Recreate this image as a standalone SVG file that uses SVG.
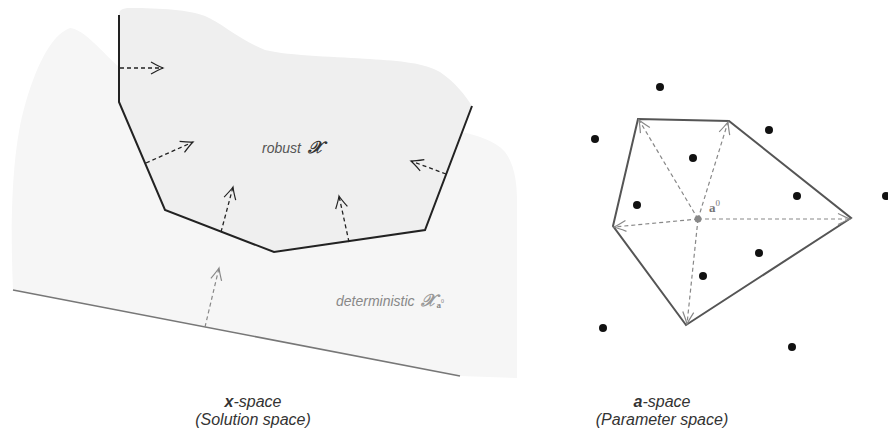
<svg xmlns="http://www.w3.org/2000/svg" width="888" height="435" viewBox="0 0 888 435">
<style>
.lbl{font-family:"Liberation Sans",Arial,sans-serif;font-style:italic;}
.cap{font-family:"Liberation Sans",Arial,sans-serif;font-style:italic;font-size:16px;fill:#333;text-anchor:middle;}
.dk{stroke:#222;stroke-width:1.3;stroke-dasharray:4 3;fill:none;marker-end:url(#ahd);}
.gr{stroke:#888;stroke-width:1.2;stroke-dasharray:4 3;fill:none;marker-end:url(#ahg);}
.dot{fill:#111;}
.scr{font-family:"DejaVu Serif","Liberation Serif",serif;font-style:italic;font-weight:bold;}
</style>
<defs>
<marker id="ahd" markerUnits="userSpaceOnUse" orient="auto" markerWidth="16" markerHeight="16" refX="0" refY="0" viewBox="-14 -8 16 16" overflow="visible">
<path d="M-12,-6 Q-4,-1.5 0,0 Q-4,1.5 -12,6" fill="none" stroke="#222" stroke-width="1.2"/>
</marker>
<marker id="ahg" markerUnits="userSpaceOnUse" orient="auto" markerWidth="16" markerHeight="16" refX="0" refY="0" viewBox="-14 -8 16 16" overflow="visible">
<path d="M-12,-5.5 Q-4,-1.5 0,0 Q-4,1.5 -12,5.5" fill="none" stroke="#888" stroke-width="1.2"/>
</marker>
</defs>
<rect width="888" height="435" fill="#fff"/>
<g id="x-space">
<path id="deterministic-region" d="M13,290 C10,220 12,150 25,105 C35,70 50,35 70,28 C85,30 100,50 119,67 L119,102 L165,210 L273,253 L425,229 L462,132 C475,135 495,140 505,152 C515,165 517,185 517,200 L517,378 L460,376 Z" fill="#f6f6f6"/>
<path id="robust-region" d="M119,102 L119,15 C119,10 122,8 130,8 C160,8 190,10 205,16 C220,22 240,40 265,50 C290,56 340,57 370,59 C400,61 425,63 440,72 C455,82 465,95 472,106 L425,229 L273,253 L165,210 Z" fill="#efefef"/>
<polyline id="robust-boundary" points="119,15 119,102 165,210 274,252 425,230 472,106" fill="none" stroke="#222" stroke-width="2" stroke-linejoin="miter"/>
<line id="deterministic-boundary" x1="13" y1="290" x2="460" y2="376" stroke="#777" stroke-width="1.5"/>
<text class="lbl" x="262" y="153" font-size="14" fill="#555">robust <tspan class="scr" font-size="17" fill="#333" dx="3">𝒳</tspan></text>
<text class="lbl" x="336" y="306" font-size="14" fill="#888">deterministic <tspan class="scr" font-size="17" fill="#999" dx="3">𝒳</tspan><tspan font-family="Liberation Serif,serif" font-style="normal" font-weight="bold" font-size="9" dy="2">a</tspan><tspan font-family="Liberation Serif,serif" font-style="normal" font-size="6" dy="-5">0</tspan></text>
<text class="cap" x="253" y="407"><tspan font-weight="bold">x</tspan>-space</text>
<text class="cap" x="253" y="425">(Solution space)</text>
</g>
<g id="a-space">
<polygon id="uncertainty-set" points="638,119 729,121 851,218 686,325 613,226" fill="#fff" stroke="#555" stroke-width="2" stroke-linejoin="miter"/>
<circle class="dot" cx="660" cy="87" r="4"/>
<circle class="dot" cx="595" cy="139" r="4"/>
<circle class="dot" cx="769" cy="130" r="4"/>
<circle class="dot" cx="693" cy="158" r="4"/>
<circle class="dot" cx="637" cy="205" r="4"/>
<circle class="dot" cx="797" cy="196" r="4"/>
<circle class="dot" cx="886" cy="196" r="4"/>
<circle class="dot" cx="759" cy="253" r="4"/>
<circle class="dot" cx="703" cy="276" r="4"/>
<circle class="dot" cx="603" cy="328" r="4"/>
<circle class="dot" cx="792" cy="347" r="4"/>
<text class="cap" x="662" y="407"><tspan font-weight="bold">a</tspan>-space</text>
<text class="cap" x="662" y="425">(Parameter space)</text>
</g>
<g id="connectors">
<line class="dk" x1="120" y1="68" x2="163" y2="68"/>
<line class="dk" x1="146" y1="163" x2="193" y2="142"/>
<line class="dk" x1="221" y1="232" x2="233" y2="187"/>
<line class="dk" x1="349" y1="242" x2="339" y2="196"/>
<line class="dk" x1="446" y1="174" x2="411" y2="161"/>
<line class="gr" x1="205" y1="327" x2="219" y2="268"/>
<line class="gr" x1="698" y1="219" x2="639" y2="120"/>
<line class="gr" x1="698" y1="219" x2="728" y2="122"/>
<line class="gr" x1="698" y1="219" x2="850" y2="219"/>
<line class="gr" x1="698" y1="219" x2="687" y2="324"/>
<line class="gr" x1="698" y1="219" x2="614" y2="227"/>
</g>
<g id="a0">
<circle cx="698" cy="219" r="3.5" fill="#888"/>
<text x="709" y="212" font-family="Liberation Serif,serif" font-weight="bold" font-size="13" fill="#777">a<tspan font-weight="normal" font-size="9" dy="-6">0</tspan></text>
</g>
</svg>
